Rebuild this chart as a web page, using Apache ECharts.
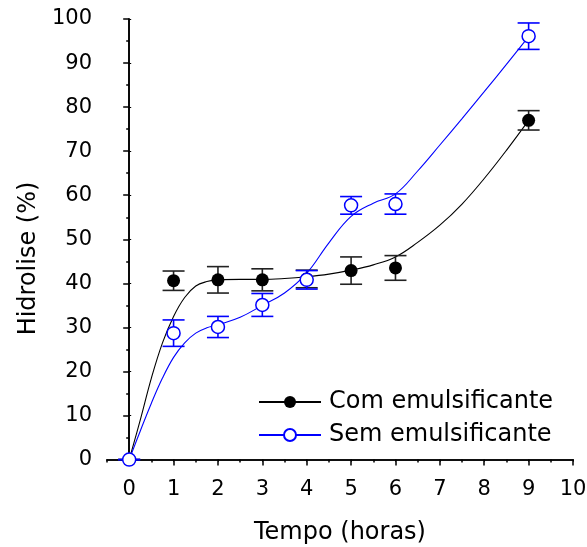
<!DOCTYPE html>
<html>
<head>
<meta charset="utf-8">
<script src="https://cdn.jsdelivr.net/npm/echarts@6/dist/echarts.min.js"></script>
<style>
  html, body { margin: 0; padding: 0; background: #fff; }
  #chart { width: 587px; height: 547px; }
</style>
</head>
<body>
<div id="chart"></div>
<script>
// measured points (mean +- error)
var hours = [0, 1, 2, 3, 4, 5, 6, 9];
var comMean = [0, 40.6, 40.8, 40.8, 41.0, 42.9, 43.5, 77.0];
var comErr = [0, 2.2, 3.0, 2.5, 2.0, 3.1, 2.8, 2.2];
var semMean = [0, 28.7, 30.1, 35.1, 40.8, 57.7, 58.0, 96.1];
var semErr = [0, 3.0, 2.4, 2.6, 2.1, 2.0, 2.3, 3.0];

// fitted curves
var curveX = [0, 0.25, 0.5, 0.75, 1, 1.25, 1.5, 1.75, 2, 2.5, 3, 3.5, 4, 4.5, 5, 5.5, 6, 6.5, 7, 7.5, 8, 8.5, 9];
var comFit = [0, 9, 18.5, 26.5, 32.5, 36.8, 39.4, 40.4, 40.8, 40.9, 40.9, 41.1, 41.5, 42.1, 43, 44.2, 46, 49.3, 53.2, 58, 63.8, 70.2, 77];
var semFit = [0, 6.5, 12.8, 18.5, 23.2, 26.5, 28.7, 29.9, 30.6, 32.3, 35, 37.8, 42.3, 49.2, 55.2, 58.2, 60.3, 65.5, 71.4, 77.4, 83.5, 89.7, 96];

// tick labels
var xTicks = [0, 1, 2, 3, 4, 5, 6, 7, 8, 9, 10];
var xMinor = [-0.5, 0.5, 1.5, 2.5, 3.5, 4.5, 5.5, 6.5, 7.5, 8.5, 9.5];
var yTicks = [0, 10, 20, 30, 40, 50, 60, 70, 80, 90, 100];
var yMinor = [5, 15, 25, 35, 45, 55, 65, 75, 85, 95];

var font = 'DejaVu Sans, Liberation Sans, sans-serif';
var BLUE = '#0000ff';

function pairs(xs, ys) {
  return xs.map(function (x, i) { return [x, ys[i]]; });
}
function bars(xs, m, e) {
  return xs.map(function (x, i) { return [x, m[i] - e[i], m[i] + e[i]]; });
}

function errorBar(color) {
  return function (params, api) {
    var lo = api.coord([api.value(0), api.value(1)]);
    var hi = api.coord([api.value(0), api.value(2)]);
    var w = 11;
    var st = { stroke: color, lineWidth: 1.6 };
    return {
      type: 'group',
      children: [
        { type: 'line', shape: { x1: lo[0], y1: lo[1], x2: hi[0], y2: hi[1] }, style: st },
        { type: 'line', shape: { x1: lo[0] - w, y1: lo[1], x2: lo[0] + w, y2: lo[1] }, style: st },
        { type: 'line', shape: { x1: hi[0] - w, y1: hi[1], x2: hi[0] + w, y2: hi[1] }, style: st }
      ]
    };
  };
}

var axisLine = { show: true, lineStyle: { color: '#000', width: 1.6 } };
var noLabel = { show: false };

var chart = echarts.init(document.getElementById('chart'));
chart.setOption({
  animation: false,
  backgroundColor: '#fff',
  grid: { left: 107, right: 14, top: 19, bottom: 83, containLabel: false, outerBoundsMode: 'none' },
  legend: {
    data: ['Com emulsificante', 'Sem emulsificante'],
    orient: 'vertical',
    left: 258,
    top: 390,
    padding: 0,
    itemWidth: 62,
    itemHeight: 15,
    itemGap: 9,
    textStyle: { fontFamily: font, fontSize: 24, color: '#000', padding: [0, 0, 0, 3] }
  },
  xAxis: [
    {
      type: 'value', position: 'bottom', min: -0.5, max: 10,
      axisLine: axisLine,
      splitLine: { show: false },
      axisTick: { show: true, customValues: xTicks, length: 6, lineStyle: { color: '#000', width: 1.5 } },
      axisLabel: { customValues: xTicks, margin: 15, color: '#000', fontFamily: font, fontSize: 21 },
      name: 'Tempo (horas)', nameLocation: 'middle', nameGap: 57,
      nameTextStyle: { fontFamily: font, fontSize: 24, color: '#000' }
    },
    {
      type: 'value', position: 'bottom', min: -0.5, max: 10,
      axisLine: { show: false }, splitLine: { show: false }, axisLabel: noLabel,
      axisTick: { show: true, customValues: xMinor, length: 3, lineStyle: { color: '#000', width: 1.5 } }
    },
    {
      type: 'value', position: 'top', min: -0.5, max: 10,
      axisLine: axisLine, splitLine: { show: false }, axisLabel: noLabel,
      axisTick: { show: true, inside: true, customValues: xTicks, length: 2, lineStyle: { color: '#000', width: 1 } }
    }
  ],
  yAxis: [
    {
      type: 'value', position: 'left', min: -1, max: 100,
      axisLine: axisLine,
      splitLine: { show: false },
      axisTick: { show: true, customValues: yTicks, length: 6, lineStyle: { color: '#000', width: 1.5 } },
      axisLabel: { customValues: yTicks, margin: 15, color: '#000', fontFamily: font, fontSize: 21 },
      name: 'Hidrolise (%)', nameLocation: 'middle', nameGap: 65,
      nameTextStyle: { fontFamily: font, fontSize: 24, color: '#000', padding: [0, 34, 0, 0] }
    },
    {
      type: 'value', position: 'left', min: -1, max: 100,
      axisLine: { show: false }, splitLine: { show: false }, axisLabel: noLabel,
      axisTick: { show: true, customValues: yMinor, length: 3, lineStyle: { color: '#000', width: 1.5 } }
    },
    {
      type: 'value', position: 'right', min: -1, max: 100,
      axisLine: axisLine, splitLine: { show: false }, axisLabel: noLabel,
      axisTick: { show: true, customValues: yTicks, length: 2, lineStyle: { color: '#000', width: 1 } }
    }
  ],
  series: [
    {
      name: 'Com emulsificante', type: 'line', data: pairs(curveX, comFit),
      smooth: 0.4, showSymbol: false, symbol: 'circle', z: 2,
      lineStyle: { color: '#000', width: 1.1 },
      itemStyle: { color: '#000' }
    },
    {
      name: 'Sem emulsificante', type: 'line', data: pairs(curveX, semFit),
      smooth: 0.4, showSymbol: false, symbol: 'circle', z: 2,
      lineStyle: { color: BLUE, width: 1.1 },
      itemStyle: { color: '#fff', borderColor: BLUE, borderWidth: 1.5 }
    },
    { name: 'com-err', type: 'custom', data: bars(hours, comMean, comErr), renderItem: errorBar('#222'), z: 3 },
    { name: 'sem-err', type: 'custom', data: bars(hours, semMean, semErr), renderItem: errorBar(BLUE), z: 4 },
    {
      name: 'com-pts', type: 'scatter', data: pairs(hours, comMean), symbol: 'circle', symbolSize: 13, z: 5,
      itemStyle: { color: '#000', opacity: 1 }
    },
    {
      name: 'sem-pts', type: 'scatter', data: pairs(hours, semMean), symbol: 'circle', symbolSize: 13, z: 6,
      itemStyle: { color: '#fff', borderColor: BLUE, borderWidth: 1.5, opacity: 1 }
    }
  ]
});
</script>
</body>
</html>
